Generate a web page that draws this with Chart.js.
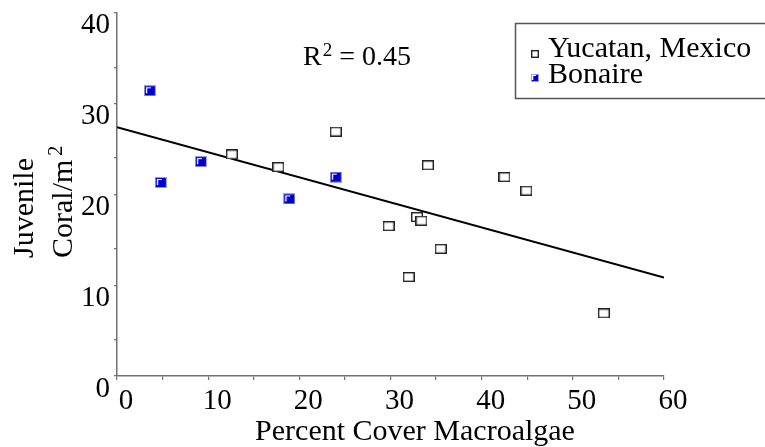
<!DOCTYPE html>
<html><head><meta charset="utf-8">
<script src="https://cdn.jsdelivr.net/npm/chart.js@4/dist/chart.umd.min.js"></script>
<style>html,body{margin:0;padding:0;background:#fff}#wrap{width:765px;height:447px;position:relative}</style>
</head><body><div id="wrap"><canvas id="c"></canvas></div>
<script>
const seriesNames = ['Yucatan, Mexico', 'Bonaire'];
const yucatanX = [12.6, 17.7, 24.0, 34.1, 42.5, 44.9, 32.9, 33.4, 29.8, 35.5, 32.0, 53.4];
const yucatanY = [24.4, 23.0, 26.9, 23.2, 21.9, 20.4, 17.5, 17.1, 16.5, 14.0, 10.9, 6.9];
const bonaireX = [3.6, 9.2, 4.8, 18.9, 24.0];
const bonaireY = [31.4, 23.6, 21.3, 19.5, 21.9];
const trendX = [0, 60];
const trendY = [27.4, 10.85];
const xTickValues = [0, 5, 10, 15, 20, 25, 30, 35, 40, 45, 50, 55, 60];
const xTickLabels = ['0', '', '10', '', '20', '', '30', '', '40', '', '50', '', '60'];
const yTickValues = [0, 4, 10, 14, 20, 24, 30, 34, 40];
const yTickLabels = ['0', '', '10', '', '20', '', '30', '', '40'];
const xTitle = 'Percent Cover Macroalgae';
const yTitle = ['Juvenile', 'Coral/m'];
const yTitleSup = '2';
const annotationParts = ['R', '2', ' = 0.45'];

const SERIF = '"Liberation Serif", "DejaVu Serif", serif';

function openMarker(w, h) {
  const c = document.createElement('canvas');
  c.width = w; c.height = h;
  const g = c.getContext('2d');
  g.fillStyle = '#fff'; g.fillRect(0, 0, w, h);
  g.strokeStyle = '#222'; g.lineWidth = 1.4;
  g.strokeRect(0.7, 0.7, w - 1.4, h - 1.4);
  return c;
}
function blueMarker(w, h, small) {
  const c = document.createElement('canvas');
  c.width = w; c.height = h;
  const g = c.getContext('2d');
  g.fillStyle = '#9c9cdc'; g.fillRect(0, 0, w, h);
  g.fillStyle = '#0000cc'; g.fillRect(1, 1, w - 2, h - 2);
  g.fillStyle = '#fff';
  const o = small ? 1 : 2;
  g.fillRect(o, o, w - o * 2 - (small ? 2 : 3), 1);
  g.fillRect(o, o, 1.3, h - o * 2 - 1);
  return c;
}

const yMarker = openMarker(12, 10);
const bMarker = blueMarker(12, 11, false);
const yLegMarker = openMarker(8, 8);
const bLegMarker = blueMarker(8, 8, true);

function pts(xs, ys) { return xs.map((x, i) => ({ x: x, y: ys[i] })); }

const textPlugin = {
  id: 'texts',
  afterDraw(chart) {
    const ctx = chart.ctx;
    ctx.save();
    ctx.fillStyle = '#000';
    ctx.textAlign = 'left';
    ctx.textBaseline = 'alphabetic';
    // R^2 annotation
    let ax = 303;
    ctx.font = '28px ' + SERIF;
    ctx.fillText(annotationParts[0], ax, 65);
    ax += ctx.measureText(annotationParts[0]).width + 1;
    ctx.font = '19px ' + SERIF;
    ctx.fillText(annotationParts[1], ax, 56);
    ax += ctx.measureText(annotationParts[1]).width;
    ctx.font = '28px ' + SERIF;
    ctx.fillText(annotationParts[2], ax, 65);
    // Y title (two rotated lines, start aligned)
    const baseXs = [33, 72];
    yTitle.forEach((t, i) => {
      ctx.save();
      ctx.translate(baseXs[i], 258);
      ctx.rotate(-Math.PI / 2);
      ctx.font = '30px ' + SERIF;
      ctx.fillText(t, 0, 0);
      if (i === 1) {
        const w = ctx.measureText(t).width;
        ctx.font = '20px ' + SERIF;
        ctx.fillText(yTitleSup, w + 4, -10);
      }
      ctx.restore();
    });
    // X title
    ctx.font = '30px ' + SERIF;
    ctx.textAlign = 'center';
    ctx.fillText(xTitle, 415, 440);
    // Legend box
    ctx.textAlign = 'left';
    ctx.strokeStyle = '#555';
    ctx.lineWidth = 1.5;
    ctx.strokeRect(515.5, 23.5, 260, 75);
    ctx.drawImage(yLegMarker, 531, 50);
    ctx.drawImage(bLegMarker, 531, 74);
    ctx.font = '30px ' + SERIF;
    ctx.fillText(seriesNames[0], 548, 57);
    ctx.fillText(seriesNames[1], 548, 83);
    ctx.restore();
  }
};

new Chart(document.getElementById('c'), {
  type: 'scatter',
  data: {
    datasets: [
      { label: 'trend', type: 'line', data: pts(trendX, trendY), borderColor: '#000', borderWidth: 2, pointRadius: 0, fill: false, order: 3 },
      { label: seriesNames[0], data: pts(yucatanX, yucatanY), pointStyle: yMarker, pointRadius: 6, order: 2 },
      { label: seriesNames[1], data: pts(bonaireX, bonaireY), pointStyle: bMarker, pointRadius: 6, order: 1 }
    ]
  },
  options: {
    responsive: true,
    maintainAspectRatio: false,
    animation: false,
    layout: { padding: { left: 0, right: 101, top: 11, bottom: 0 } },
    plugins: { legend: { display: false }, tooltip: { enabled: false } },
    scales: {
      x: {
        type: 'linear', min: 0, max: 60,
        afterBuildTicks: s => { s.ticks = xTickValues.map(v => ({ value: v })); },
        afterFit: s => { s.height = 71; },
        grid: { display: true, drawOnChartArea: false, drawTicks: true, tickLength: 4, color: '#707070', lineWidth: 1.2 },
        border: { display: true, color: '#707070', width: 1.5 },
        ticks: {
          autoSkip: false, maxRotation: 0, color: '#000', padding: 4, labelOffset: 9,
          font: { family: SERIF, size: 29 },
          callback: (v, i) => xTickLabels[i]
        }
      },
      y: {
        type: 'linear', min: 0, max: 40,
        afterBuildTicks: s => { s.ticks = yTickValues.map(v => ({ value: v })); },
        afterFit: s => { s.width = 117; },
        grid: { display: true, drawOnChartArea: false, drawTicks: true, tickLength: 3, color: '#707070', lineWidth: 1.2 },
        border: { display: true, color: '#707070', width: 1.5 },
        ticks: {
          autoSkip: false, color: '#000', padding: 4, labelOffset: 13,
          font: { family: SERIF, size: 29, lineHeight: 0.6 },
          callback: (v, i) => yTickLabels[i]
        }
      }
    }
  },
  plugins: [textPlugin]
});
</script>
</body></html>
